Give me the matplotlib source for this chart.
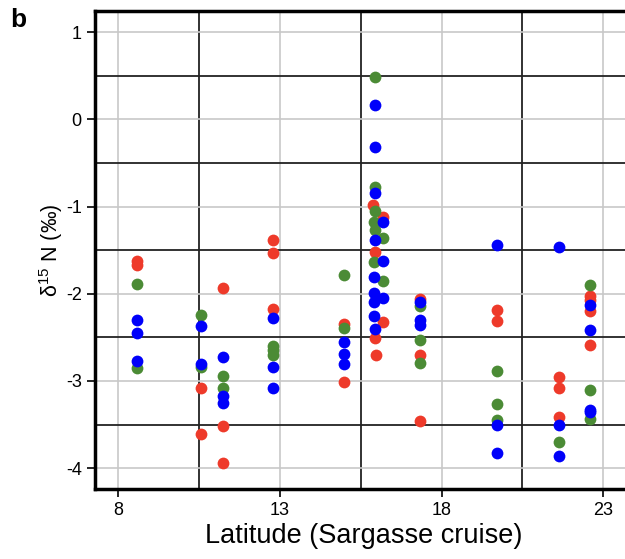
import matplotlib
matplotlib.use("Agg")
import matplotlib.pyplot as plt

plt.rcParams['font.family'] = ['Liberation Sans', 'DejaVu Sans']
plt.rcParams['axes.unicode_minus'] = False

# latitude / d15N, one list pair per colour
red_lat = [8.59, 8.59, 10.56, 10.56, 11.24, 11.24, 11.24, 12.78, 12.78, 12.78,
           14.98, 14.98, 15.88, 16.2, 15.93, 16.2, 15.93, 15.97,
           17.32, 17.32, 17.32, 19.70, 19.70, 21.64, 21.64, 21.64,
           22.6, 22.6, 22.6, 22.6]
red_n15 = [-1.62, -1.67, -3.08, -3.61, -1.93, -3.52, -3.94, -1.38, -1.53, -2.18,
           -2.35, -3.01, -0.98, -1.12, -1.52, -2.32, -2.51, -2.70,
           -2.06, -2.70, -3.46, -2.19, -2.31, -2.95, -3.08, -3.41,
           -2.02, -2.07, -2.20, -2.59]

green_lat = [8.59, 8.59, 10.56, 10.56, 11.24, 11.24, 12.78, 12.78, 12.78,
             14.98, 14.98, 15.93, 15.93, 15.93, 15.9, 15.93, 16.2, 15.9, 16.2,
             17.32, 17.32, 17.32, 19.70, 19.70, 19.70, 21.64,
             22.6, 22.6, 22.6]
green_n15 = [-1.89, -2.85, -2.24, -2.84, -2.94, -3.08, -2.60, -2.65, -2.70,
             -1.78, -2.39, 0.49, -0.78, -1.05, -1.18, -1.27, -1.36, -1.64, -1.85,
             -2.14, -2.53, -2.79, -2.89, -3.26, -3.45, -3.70,
             -1.90, -3.10, -3.44]

blue_lat = [8.59, 8.59, 8.59, 10.56, 10.56, 11.24, 11.24, 11.24,
            12.78, 12.78, 12.78, 14.98, 14.98, 14.98,
            15.93, 15.93, 15.93, 16.2, 15.93, 16.2, 15.9, 15.9, 16.2, 15.9, 15.9, 15.93,
            17.32, 17.32, 17.32, 19.70, 19.70, 19.70, 21.64, 21.64, 21.64,
            22.6, 22.6, 22.6, 22.6]
blue_n15 = [-2.30, -2.45, -2.77, -2.37, -2.80, -2.73, -3.17, -3.25,
            -2.28, -2.84, -3.08, -2.55, -2.69, -2.81,
            0.17, -0.32, -0.84, -1.18, -1.38, -1.62, -1.81, -1.99, -2.05, -2.10, -2.25, -2.40,
            -2.10, -2.30, -2.36, -1.44, -3.50, -3.83, -1.46, -3.51, -3.86,
            -2.13, -2.42, -3.33, -3.36]

xticks = [8, 13, 18, 23]
yticks = [1, 0, -1, -2, -3, -4]
x_half = [10.5, 15.5, 20.5]
y_half = [0.5, -0.5, -1.5, -2.5, -3.5]

fig = plt.figure(figsize=(6.25, 5.59), dpi=100)
ax = fig.add_axes([0.152, 0.125, 0.86, 0.855])

ax.scatter(red_lat, red_n15, s=72, color='#ee3a2a', linewidths=0, zorder=3)
ax.scatter(green_lat, green_n15, s=72, color='#4b8b35', linewidths=0, zorder=3)
ax.scatter(blue_lat, blue_n15, s=72, color='#0000fa', linewidths=0, zorder=3)

ax.set_xlim(7.29, 23.9)
ax.set_ylim(-4.24, 1.24)
ax.set_xticks(xticks)
ax.set_yticks(yticks)
ax.xaxis.set_minor_locator(plt.FixedLocator(x_half))
ax.yaxis.set_minor_locator(plt.FixedLocator(y_half))

ax.set_axisbelow(True)
ax.grid(which='major', color='#c8c8c8', linewidth=1.2)
ax.grid(which='minor', color='#222222', linewidth=1.3)
ax.tick_params(which='minor', length=0)
ax.tick_params(which='major', length=6, width=1.2, labelsize=13, direction='out')

for side in ['left', 'bottom', 'top']:
    ax.spines[side].set_linewidth(2.5)
ax.spines['right'].set_visible(False)

ax.set_xlabel('Latitude (Sargasse cruise)', fontsize=19.5, labelpad=3)
ax.set_ylabel(r'$\mathregular{\delta^{15}}$ N (‰)', fontsize=15.5, labelpad=1)
fig.text(0.016, 0.952, 'b', fontsize=19, fontweight='bold')

fig.savefig('out.png', dpi=100)
